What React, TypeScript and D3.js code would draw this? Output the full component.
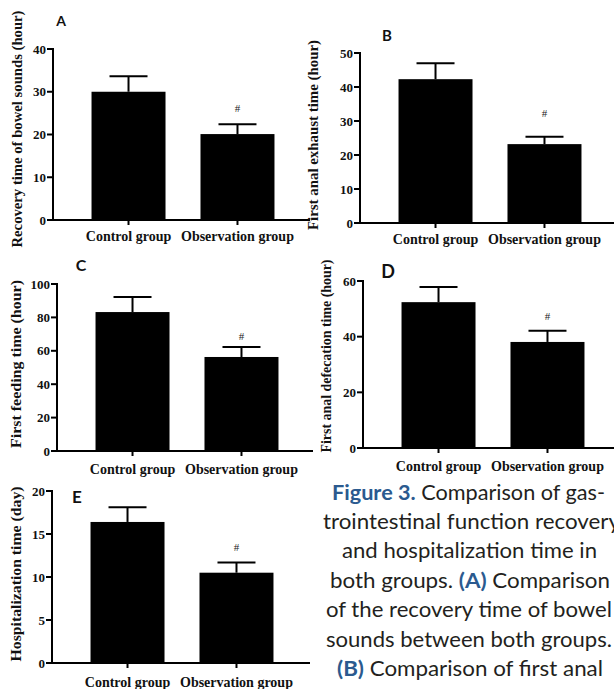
import React from 'react';
import * as d3 from 'd3';

// ---- data ----
const categories = ['Control group', 'Observation group'];
const panelLetters = ['A', 'B', 'C', 'D', 'E'];
const yTitles = [
  'Recovery time of bowel sounds (hour)',
  'First anal exhaust time (hour)',
  'First feeding time (hour)',
  'First anal defecation time (hour)',
  'Hospitalization time (day)',
];
const controlMeans = [30.0, 42.3, 83.2, 52.4, 16.4];
const observationMeans = [20.1, 23.2, 56.3, 38.1, 10.5];
const controlSD = [3.6, 4.7, 9.0, 5.4, 1.7];
const observationSD = [2.3, 2.2, 6.0, 4.0, 1.2];
const yMaxes = [40, 50, 100, 60, 20];
const tickSteps = [10, 10, 20, 20, 5];
const significance = ['', '#'];

const captionLines: { t: string; blue?: boolean }[][] = [
  [{ t: 'Figure 3.', blue: true }, { t: ' Comparison of gas-' }],
  [{ t: 'trointestinal function recovery' }],
  [{ t: 'and hospitalization time in' }],
  [{ t: 'both groups. ' }, { t: '(A)', blue: true }, { t: ' Comparison' }],
  [{ t: 'of the recovery time of bowel' }],
  [{ t: 'sounds between both groups.' }],
  [{ t: '(B)', blue: true }, { t: ' Comparison of first anal' }],
];

// ---- layout ----
const layouts = [
  { axisX: 53, top: 49, bottom: 220, xEnd: 310, titleX: 17, titleY: 129, titleLen: 237, letterX: 61, letterY: 20, letterSize: 14, catY: 241, hashGap: 16 },
  { axisX: 360, top: 53, bottom: 223, xEnd: 614, titleX: 313, titleY: 135, titleLen: 190, letterX: 387, letterY: 35, letterSize: 15, catY: 244, hashGap: 24 },
  { axisX: 57, top: 284, bottom: 451, xEnd: 313, titleX: 16, titleY: 364, titleLen: 168, letterX: 81, letterY: 264, letterSize: 16, catY: 474, hashGap: 11 },
  { axisX: 363, top: 281, bottom: 448, xEnd: 614, titleX: 326, titleY: 356, titleLen: 193, letterX: 388, letterY: 271, letterSize: 18, catY: 471, hashGap: 15 },
  { axisX: 52, top: 491, bottom: 663, xEnd: 310, titleX: 16, titleY: 574, titleLen: 175, letterX: 77, letterY: 496, letterSize: 17, catY: 687, hashGap: 15 },
];
const captionLayout = [
  { cx: 468.5, y: 500, w: 273 },
  { cx: 471.5, y: 529, w: 297 },
  { cx: 469.5, y: 558, w: 255 },
  { cx: 470, y: 588, w: 280 },
  { cx: 469, y: 617, w: 286 },
  { cx: 469, y: 647, w: 286 },
  { cx: 470, y: 676, w: 266 },
];

const SERIF = "'Liberation Serif', 'Times New Roman', serif";
const SANS = "Lato, 'Open Sans', sans-serif";
const BLUE = '#2b5a8f';
const TEXT = '#231f20';

function Panel({ i }: { i: number }) {
  const L = layouts[i];
  const means = [controlMeans[i], observationMeans[i]];
  const sds = [controlSD[i], observationSD[i]];
  const y = d3.scaleLinear().domain([0, yMaxes[i]]).range([L.bottom, L.top]);
  const x = d3
    .scaleBand<string>()
    .domain(categories)
    .range([L.axisX + 20, L.axisX + 240])
    .paddingInner(0.321)
    .paddingOuter(0.17);
  const ticks = d3.range(0, yMaxes[i] + 0.001, tickSteps[i]);
  const bw = x.bandwidth();
  const capW = 38;
  return (
    <g>
      {categories.map((c, k) => {
        const x0 = x(c)!;
        const cx = x0 + bw / 2;
        const top = y(means[k]);
        const et = y(means[k] + sds[k]);
        return (
          <g key={c}>
            <rect x={x0} y={top} width={bw} height={y(0) - top} fill="#000" />
            <line x1={cx} x2={cx} y1={top} y2={et} stroke="#000" strokeWidth={2} />
            <line x1={cx - capW / 2} x2={cx + capW / 2} y1={et} y2={et} stroke="#000" strokeWidth={2} />
            {significance[k] && (
              <text x={cx} y={et - L.hashGap} textAnchor="middle" dominantBaseline="central" fontFamily={SERIF} fontSize={11} fill="#222">
                {significance[k]}
              </text>
            )}
            <line x1={cx} x2={cx} y1={L.bottom} y2={L.bottom + 5} stroke="#000" strokeWidth={2} />
            <text x={cx} y={L.catY} textAnchor="middle" fontFamily={SERIF} fontWeight="bold" fontSize={14} fill="#111">
              {c}
            </text>
          </g>
        );
      })}
      <line x1={L.axisX} x2={L.axisX} y1={L.top - 1} y2={L.bottom + 1} stroke="#000" strokeWidth={2} />
      <line x1={L.axisX - 1} x2={L.xEnd} y1={L.bottom} y2={L.bottom} stroke="#000" strokeWidth={2} />
      {ticks.map((t) => (
        <g key={t}>
          <line x1={L.axisX - 6} x2={L.axisX} y1={y(t)} y2={y(t)} stroke="#000" strokeWidth={2} />
          <text x={L.axisX - 7} y={y(t)} textAnchor="end" dominantBaseline="central" fontFamily={SERIF} fontWeight="bold" fontSize={13} fill="#111">
            {t}
          </text>
        </g>
      ))}
      <text
        transform={`translate(${L.titleX},${L.titleY}) rotate(-90)`}
        textAnchor="middle"
        dominantBaseline="central"
        fontFamily={SERIF}
        fontWeight="bold"
        fontSize={14}
        textLength={L.titleLen}
        lengthAdjust="spacingAndGlyphs"
        fill="#111"
      >
        {yTitles[i]}
      </text>
      <text x={L.letterX} y={L.letterY} textAnchor="middle" dominantBaseline="central" fontFamily={SANS} fontWeight="bold" fontSize={L.letterSize} fill="#111">
        {panelLetters[i]}
      </text>
    </g>
  );
}

export default function App() {
  return (
    <svg width={614} height={689} style={{ position: 'absolute', left: 0, top: 0, background: '#fff' }}>
      <rect width={614} height={689} fill="#fff" />
      {panelLetters.map((_, i) => (
        <Panel key={i} i={i} />
      ))}
      {captionLines.map((segs, li) => {
        const c = captionLayout[li];
        return (
          <text
            key={li}
            x={c.cx}
            y={c.y}
            textAnchor="middle"
            fontFamily={SANS}
            fontSize={21}
            fill={TEXT}
            textLength={c.w}
            lengthAdjust="spacingAndGlyphs"
          >
            {segs.map((s, k) => (
              <tspan key={k} fill={s.blue ? BLUE : TEXT} fontWeight={s.blue ? 'bold' : 'normal'}>
                {s.t}
              </tspan>
            ))}
          </text>
        );
      })}
    </svg>
  );
}
